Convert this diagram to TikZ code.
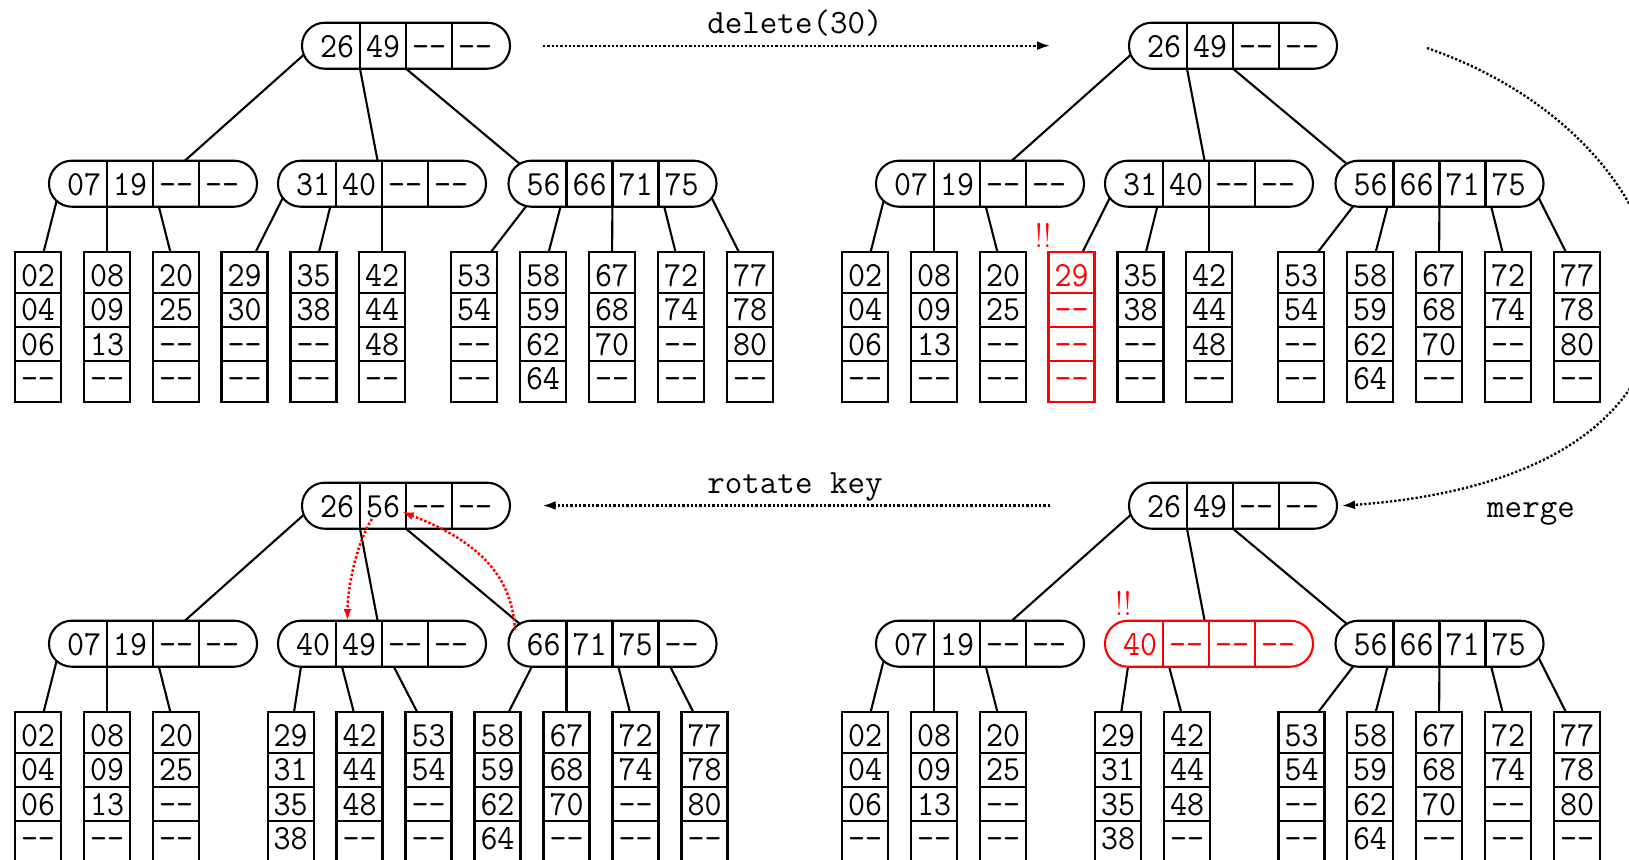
\documentclass[tikz,border=0pt]{standalone}
\usepackage{fontspec}
\usetikzlibrary{arrows.meta,calc}
\pgfdeclarelayer{bg}
\pgfsetlayers{bg,main}
\newcommand\keyfont{\fontsize{16.5pt}{18pt}\selectfont\ttfamily}
\newcommand\lblfont{\fontsize{17pt}{19pt}\selectfont\ttfamily}
\newcommand\bangfont{\fontsize{17pt}{19pt}\selectfont\rmfamily}
\newcommand\nk{-\kern0pt-}
\newcommand\vst[1]{\scalebox{1}[1.07]{#1}}
\tikzset{
  lw/.style={line width=1.05pt},
  keytext/.style={font=\keyfont, anchor=base, inner sep=0pt},
  edge/.style={line width=1.05pt},
  flow/.style={densely dotted, line width=1.15pt, -{Latex[length=6.5pt,width=4.5pt]}},
  rflow/.style={densely dotted, line width=1.25pt, red, -{Latex[length=6pt,width=4pt]}},
  lbl/.style={font=\lblfont, anchor=base, inner sep=0pt},
  bang/.style={font=\bangfont, anchor=base, inner sep=0pt, text=red},
}
\newcommand\BTinner[8]{%
  \coordinate (#1) at (#2,#3);
  \coordinate (#1-c1) at ({#2-69},#3);
  \coordinate (#1-s0) at ({#2-81},{#3+23});
  \foreach \i/\dx in {0/-92,1/-46,2/0,3/46,4/92}{%
    \coordinate (#1-p\i) at ({#2+\dx},#3);
    \coordinate (#1-b\i) at ({#2+\dx},{#3+23});}
  \draw[lw,draw=#8,fill=white,rounded corners=11.4pt] ({#2-104},{#3-23}) rectangle ({#2+104},{#3+23});
  \foreach \dx in {-46,0,46}{\draw[lw,draw=#8] ({#2+\dx},{#3-23}) -- ({#2+\dx},{#3+23});}
  \node[keytext,text=#8] (#1-k1) at ({#2-69},{#3+11.5}) {\vst{#4}};
  \node[keytext,text=#8] (#1-k2) at ({#2-23},{#3+11.5}) {\vst{#5}};
  \node[keytext,text=#8] (#1-k3) at ({#2+23},{#3+11.5}) {\vst{#6}};
  \node[keytext,text=#8] (#1-k4) at ({#2+69},{#3+11.5}) {\vst{#7}};
}
\newcommand\BTleaf[8]{%
  \coordinate (#1) at (#2,{#3+22});
  \draw[lw,draw=#8,fill=white] ({#2-23},#3) rectangle ({#2+23},{#3+150});
  \foreach \dy in {41,75,109}{\draw[lw,draw=#8] ({#2-23},{#3+\dy}) -- ({#2+23},{#3+\dy});}
  \node[keytext,text=#8] (#1-k1) at (#2,{#3+34.5}) {\vst{#4}};
  \node[keytext,text=#8] (#1-k2) at (#2,{#3+68.8}) {\vst{#5}};
  \node[keytext,text=#8] (#1-k3) at (#2,{#3+103}) {\vst{#6}};
  \node[keytext,text=#8] (#1-k4) at (#2,{#3+137.5}) {\vst{#7}};
}
\begin{document}
\begin{tikzpicture}[x=0.5pt,y=-0.5pt]
\path[use as bounding box] (0,0) rectangle (1629,859);
\clip (0,0) rectangle (1629,859);

% ---------- top-left tree ----------
\BTinner{tlR}{406}{45.7}{26}{49}{\nk}{\nk}{black}
\BTinner{tlA}{153}{183.7}{07}{19}{\nk}{\nk}{black}
\BTinner{tlB}{382}{183.7}{31}{40}{\nk}{\nk}{black}
\BTinner{tlC}{612.5}{183.7}{56}{66}{71}{75}{black}
\BTleaf{tl1}{38}{252}{02}{04}{06}{\nk}{black}
\BTleaf{tl2}{107}{252}{08}{09}{13}{\nk}{black}
\BTleaf{tl3}{176}{252}{20}{25}{\nk}{\nk}{black}
\BTleaf{tl4}{244.5}{252}{29}{30}{\nk}{\nk}{black}
\BTleaf{tl5}{313.5}{252}{35}{38}{\nk}{\nk}{black}
\BTleaf{tl6}{382}{252}{42}{44}{48}{\nk}{black}
\BTleaf{tl7}{474}{252}{53}{54}{\nk}{\nk}{black}
\BTleaf{tl8}{543}{252}{58}{59}{62}{64}{black}
\BTleaf{tl9}{612}{252}{67}{68}{70}{\nk}{black}
\BTleaf{tl10}{681}{252}{72}{74}{\nk}{\nk}{black}
\BTleaf{tl11}{750}{252}{77}{78}{80}{\nk}{black}

% ---------- top-right tree ----------
\BTinner{trR}{1233}{45.7}{26}{49}{\nk}{\nk}{black}
\BTinner{trA}{980}{183.7}{07}{19}{\nk}{\nk}{black}
\BTinner{trB}{1209}{183.7}{31}{40}{\nk}{\nk}{black}
\BTinner{trC}{1439.5}{183.7}{56}{66}{71}{75}{black}
\BTleaf{tr1}{865}{252}{02}{04}{06}{\nk}{black}
\BTleaf{tr2}{934}{252}{08}{09}{13}{\nk}{black}
\BTleaf{tr3}{1003}{252}{20}{25}{\nk}{\nk}{black}
\BTleaf{tr4}{1071.5}{252}{29}{\nk}{\nk}{\nk}{red}
\BTleaf{tr5}{1140.5}{252}{35}{38}{\nk}{\nk}{black}
\BTleaf{tr6}{1209}{252}{42}{44}{48}{\nk}{black}
\BTleaf{tr7}{1301}{252}{53}{54}{\nk}{\nk}{black}
\BTleaf{tr8}{1370}{252}{58}{59}{62}{64}{black}
\BTleaf{tr9}{1439}{252}{67}{68}{70}{\nk}{black}
\BTleaf{tr10}{1508}{252}{72}{74}{\nk}{\nk}{black}
\BTleaf{tr11}{1577}{252}{77}{78}{80}{\nk}{black}
\node[bang] (bang-tr) at (1043.2,247) {!!};

% ---------- bottom-left tree ----------
\BTinner{blR}{406}{505.7}{26}{56}{\nk}{\nk}{black}
\BTinner{blA}{153}{643.7}{07}{19}{\nk}{\nk}{black}
\BTinner{blB}{382}{643.7}{40}{49}{\nk}{\nk}{black}
\BTinner{blC}{612.5}{643.7}{66}{71}{75}{\nk}{black}
\BTleaf{bl1}{38}{712}{02}{04}{06}{\nk}{black}
\BTleaf{bl2}{107}{712}{08}{09}{13}{\nk}{black}
\BTleaf{bl3}{176}{712}{20}{25}{\nk}{\nk}{black}
\BTleaf{bl4}{290.6}{712}{29}{31}{35}{38}{black}
\BTleaf{bl5}{359.5}{712}{42}{44}{48}{\nk}{black}
\BTleaf{bl6}{428.5}{712}{53}{54}{\nk}{\nk}{black}
\BTleaf{bl7}{497.5}{712}{58}{59}{62}{64}{black}
\BTleaf{bl8}{566.5}{712}{67}{68}{70}{\nk}{black}
\BTleaf{bl9}{635.5}{712}{72}{74}{\nk}{\nk}{black}
\BTleaf{bl10}{704.5}{712}{77}{78}{80}{\nk}{black}

% ---------- bottom-right tree ----------
\BTinner{brR}{1233}{505.7}{26}{49}{\nk}{\nk}{black}
\BTinner{brA}{980}{643.7}{07}{19}{\nk}{\nk}{black}
\BTinner{brB}{1209}{643.7}{40}{\nk}{\nk}{\nk}{red}
\BTinner{brC}{1439.5}{643.7}{56}{66}{71}{75}{black}
\BTleaf{br1}{865}{712}{02}{04}{06}{\nk}{black}
\BTleaf{br2}{934}{712}{08}{09}{13}{\nk}{black}
\BTleaf{br3}{1003}{712}{20}{25}{\nk}{\nk}{black}
\BTleaf{br4}{1118}{712}{29}{31}{35}{38}{black}
\BTleaf{br5}{1187}{712}{42}{44}{48}{\nk}{black}
\BTleaf{br6}{1301.5}{712}{53}{54}{\nk}{\nk}{black}
\BTleaf{br7}{1370}{712}{58}{59}{62}{64}{black}
\BTleaf{br8}{1439}{712}{67}{68}{70}{\nk}{black}
\BTleaf{br9}{1508}{712}{72}{74}{\nk}{\nk}{black}
\BTleaf{br10}{1577}{712}{77}{78}{80}{\nk}{black}
\node[bang] (bang-br) at (1123.4,615) {!!};

% ---------- tree edges (behind the nodes) ----------
\begin{pgfonlayer}{bg}
\foreach \t in {tl,tr,bl,br}{
  \draw[edge] (\t R-p0) -- ($(\t A)+(6,0)$);
  \draw[edge] (\t R-b1) -- (\t B);
  \draw[edge] (\t R-b2) -- (\t C-c1);
  \draw[edge] (\t A-p0) -- (\t 1);
  \draw[edge] (\t A-p1) -- (\t 2);
  \draw[edge] (\t A-p2) -- (\t 3);
}
\foreach \t in {tl,tr}{
  \draw[edge] (\t B-p0) -- (\t 4);
  \draw[edge] (\t B-p1) -- (\t 5);
  \draw[edge] (\t B-p2) -- (\t 6);
  \draw[edge] (\t C-c1) -- (\t 7);
  \draw[edge] (\t C-p1) -- (\t 8);
  \draw[edge] (\t C-p2) -- (\t 9);
  \draw[edge] (\t C-p3) -- (\t 10);
  \draw[edge] (\t C-p4) -- (\t 11);
}
\draw[edge] (blB-s0) -- (bl4);
\draw[edge] (blB-p1) -- (bl5);
\draw[edge] (blB-p2) -- (bl6);
\draw[edge] (blC-c1) -- (bl7);
\draw[edge] (blC-p1) -- (bl8);
\draw[edge] (blC-p2) -- (bl9);
\draw[edge] (blC-p3) -- (bl10);
\draw[edge] (brB-s0) -- (br4);
\draw[edge] (brB-p1) -- (br5);
\draw[edge] (brC-c1) -- (br6);
\draw[edge] (brC-p1) -- (br7);
\draw[edge] (brC-p2) -- (br8);
\draw[edge] (brC-p3) -- (br9);
\draw[edge] (brC-p4) -- (br10);
\end{pgfonlayer}

% ---------- red rotation arrows ----------
\coordinate (ra1s) at (372,519);
\coordinate (ra1e) at (347.5,621);
\coordinate (ra2s) at (515,630);
\coordinate (ra2e) at (401.7,511.7);
\draw[rflow] (ra1s) .. controls (358,540) and (347.5,585) .. (ra1e);
\draw[rflow] (ra2s) .. controls (512,570) and (470,538) .. (ra2e);

% ---------- step arrows and labels ----------
\coordinate (del-s) at (543,45.7);
\coordinate (del-e) at (1050,45.7);
\coordinate (rot-s) at (1050,505.5);
\coordinate (rot-e) at (542.7,505.5);
\coordinate (mg-s) at (1427,48);
\coordinate (mg-e) at (1342,505.7);
\draw[flow] (del-s) -- (del-e);
\draw[flow] (rot-s) -- (rot-e);
\draw[flow] (mg-s) .. controls (1711,146) and (1780,475) .. (mg-e);
\node[lbl] (lbl-del) at (795,33.3) {delete(30)};
\node[lbl] (lbl-rot) at (795,493.3) {rotate key};
\node[lbl] (lbl-mg) at (1531,517) {merge};
\end{tikzpicture}
\end{document}
